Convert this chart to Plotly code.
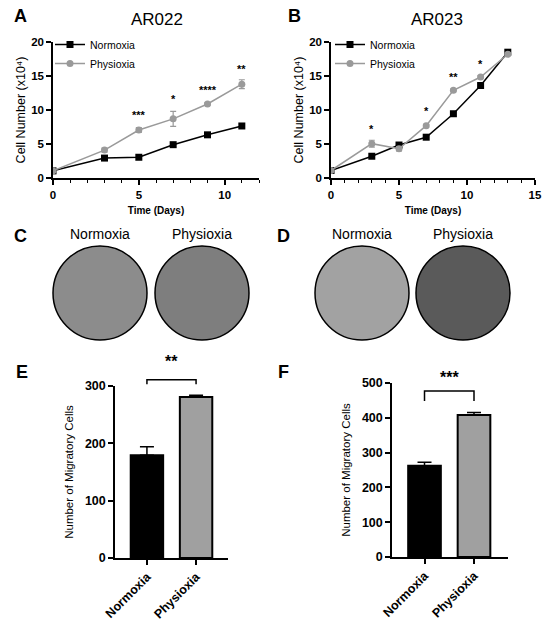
import plotly.graph_objects as go

# growth curves (cell number x10^4)
days_a = [0, 3, 5, 7, 9, 11]
norm_a = [1.05, 2.93, 3.05, 4.9, 6.35, 7.65]
phys_a = [1.05, 4.1, 7.05, 8.7, 10.88, 13.8]
phys_a_err = [0.15, 0.3, 0.35, 1.1, 0.2, 0.65]
star_a_x = [5, 7, 9, 11]
star_a_y = [9.2, 11.6, 12.9, 16.1]
star_a_txt = ["***", "*", "****", "**"]

days_b = [0, 3, 5, 7, 9, 11, 13]
norm_b = [1.1, 3.2, 4.85, 6.0, 9.45, 13.6, 18.5]
phys_b = [1.1, 5.05, 4.3, 7.7, 12.9, 14.85, 18.2]
phys_b_err = [0.15, 0.5, 0.3, 0.2, 0.2, 0.2, 0.2]
star_b_x = [3, 7, 9, 11]
star_b_y = [7.2, 9.9, 14.8, 16.8]
star_b_txt = ["*", "*", "**", "*"]

# migration assay
groups = ["Normoxia", "Physioxia"]
mig_e = [179, 281]
mig_e_err = [15, 3]
mig_f = [262, 408]
mig_f_err = [10, 7]
bracket_e = [303, 311, 311, 303]
bracket_f = [448, 477, 477, 448]

FONT = "Liberation Sans, Arial, sans-serif"
GRAY = "#9a9a9a"

fig = go.Figure()

def growth(x, n, p, perr, xa, ya, leg):
    fig.add_trace(go.Scatter(x=x, y=n, mode="lines+markers", name="Normoxia",
                             line=dict(color="black", width=1.5),
                             marker=dict(symbol="square", size=7, color="black"),
                             xaxis=xa, yaxis=ya, legend=leg))
    fig.add_trace(go.Scatter(x=x, y=p, mode="lines+markers", name="Physioxia",
                             line=dict(color=GRAY, width=1.5),
                             marker=dict(symbol="circle", size=7, color=GRAY),
                             error_y=dict(type="data", array=perr, color=GRAY, thickness=1.2, width=3),
                             xaxis=xa, yaxis=ya, legend=leg))

growth(days_a, norm_a, phys_a, phys_a_err, "x", "y", "legend")
growth(days_b, norm_b, phys_b, phys_b_err, "x2", "y2", "legend2")

def bars(vals, errs, br, xa, ya, ya_top):
    fig.add_trace(go.Bar(x=groups, y=vals, width=0.66,
                         marker=dict(color=["black", "#a0a0a0"], line=dict(color="black", width=2)),
                         error_y=dict(type="data", symmetric=False, array=errs, arrayminus=[0, 0],
                                      color="black", thickness=1.5, width=7),
                         xaxis=xa, yaxis=ya, showlegend=False))
    # significance bracket lives on a taller, hidden y axis with the same scale
    fig.add_trace(go.Scatter(x=[groups[0], groups[0], groups[1], groups[1]], y=br, mode="lines",
                             line=dict(color="black", width=1.5), xaxis=xa, yaxis=ya_top,
                             showlegend=False))

bars(mig_e, mig_e_err, bracket_e, "x3", "y3", "y5")
bars(mig_f, mig_f_err, bracket_f, "x4", "y4", "y6")

def W(px):
    return px / 550

def H(py):
    return 1 - py / 628

def bold(size):
    return dict(family=FONT, size=size, color="black", weight="bold")

common = dict(showline=True, linecolor="black", linewidth=1.5, ticks="outside",
              tickwidth=1.5, ticklen=5, tickcolor="black", tickfont=bold(11.5),
              showgrid=False, zeroline=False, automargin=False)
barax = {**common, "tickfont": bold(12.5)}
minor = dict(dtick=1, ticks="outside", ticklen=3, tickcolor="black", tickwidth=1.2)
time_title = dict(text="<b>Time (Days)</b>", font=dict(size=10), standoff=7)
cell_title = dict(text="Cell Number (x10⁴)", font=dict(size=12.5), standoff=3)
mig_title = dict(text="Number of Migratory Cells", font=dict(size=11.5), standoff=9)

fig.update_layout(
    width=550, height=628, margin=dict(l=0, r=0, t=0, b=0),
    paper_bgcolor="white", plot_bgcolor="rgba(0,0,0,0)",
    font=dict(family=FONT, color="black"),
    barmode="overlay",
    xaxis=dict(domain=[W(53), W(259)], range=[0, 12], tickvals=[0, 5, 10], minor=minor,
               title=time_title, **common),
    yaxis=dict(domain=[H(178), H(42)], range=[0, 20], tickvals=[0, 5, 10, 15, 20],
               title=cell_title, **common),
    xaxis2=dict(domain=[W(331), W(535)], range=[0, 15], tickvals=[0, 5, 10, 15], anchor="y2", minor=minor,
                title=time_title, **common),
    yaxis2=dict(domain=[H(178), H(42)], range=[0, 20], tickvals=[0, 5, 10, 15, 20], anchor="x2",
                title=cell_title, **common),
    xaxis3=dict(domain=[W(115), W(228)], range=[-0.65, 1.65], anchor="y3", tickangle=-45, **barax),
    yaxis3=dict(domain=[H(558), H(386)], range=[0, 300], tickvals=[0, 100, 200, 300], anchor="x3",
                title=mig_title, **barax),
    yaxis5=dict(domain=[H(558), H(351.6)], range=[0, 360], anchor="x3", visible=False),
    xaxis4=dict(domain=[W(392), W(508)], range=[-0.657, 1.687], anchor="y4", tickangle=-45, **barax),
    yaxis4=dict(domain=[H(557), H(383)], range=[0, 500], tickvals=[0, 100, 200, 300, 400, 500], anchor="x4",
                title=mig_title, **barax),
    yaxis6=dict(domain=[H(557), H(369)], range=[0, 540], anchor="x4", visible=False),
    legend=dict(x=W(50), y=H(30), xanchor="left", yanchor="top", bgcolor="rgba(0,0,0,0)",
                font=dict(size=10.5), itemwidth=30, tracegroupgap=0),
    legend2=dict(x=W(330), y=H(30), xanchor="left", yanchor="top", bgcolor="rgba(0,0,0,0)",
                 font=dict(size=10.5), itemwidth=30, tracegroupgap=0),
)

ann = []
for x, y, t in zip(star_a_x, star_a_y, star_a_txt):
    ann.append(dict(x=x, y=y, xref="x", yref="y", text="<b>%s</b>" % t, showarrow=False, font=dict(size=11)))
for x, y, t in zip(star_b_x, star_b_y, star_b_txt):
    ann.append(dict(x=x, y=y, xref="x2", yref="y2", text="<b>%s</b>" % t, showarrow=False, font=dict(size=11)))
ann.append(dict(x=0.5, y=342, xref="x3", yref="y5", text="<b>**</b>", showarrow=False, font=dict(size=16)))
ann.append(dict(x=0.5, y=515, xref="x4", yref="y6", text="<b>***</b>", showarrow=False, font=dict(size=16)))

# panel letters and titles
for t, x, y in [("A", 20, 16), ("B", 294, 16), ("C", 20, 236), ("D", 283, 236), ("E", 22, 372), ("F", 283, 372)]:
    ann.append(dict(x=W(x), y=H(y), xref="paper", yref="paper", text="<b>%s</b>" % t,
                    xanchor="center", yanchor="middle", showarrow=False, font=dict(size=18)))
for t, x in [("AR022", 157), ("AR023", 437)]:
    ann.append(dict(x=W(x), y=H(20), xref="paper", yref="paper", text=t, xanchor="center",
                    yanchor="middle", showarrow=False, font=dict(size=17)))

# micrograph wells
wells = [("Normoxia", 100, "#8c8c8c"), ("Physioxia", 202, "#7e7e7e"),
         ("Normoxia", 362, "#a2a2a2"), ("Physioxia", 463, "#5a5a5a")]
for t, cx, col in wells:
    ann.append(dict(x=W(cx), y=H(234), xref="paper", yref="paper", text=t, xanchor="center",
                    yanchor="middle", showarrow=False, font=dict(size=14)))
    fig.add_shape(type="circle", xref="paper", yref="paper",
                  x0=W(cx - 47), x1=W(cx + 47), y0=H(340), y1=H(246),
                  fillcolor=col, line=dict(color="black", width=1.5))

fig.update_layout(annotations=ann)

# page body has a default 8px margin; drop it so the figure sits at the window origin
fig.write_html("out.html", config={"displayModeBar": False},
               post_script="document.body.style.margin='0';")
